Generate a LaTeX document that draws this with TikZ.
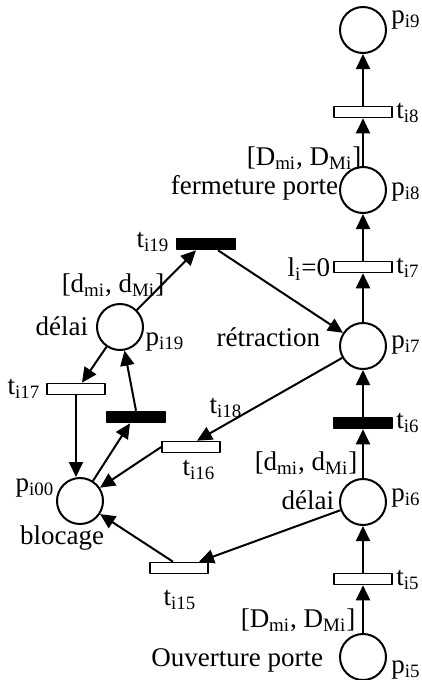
\documentclass[tikz,border=0pt]{standalone}
\usepackage{fontspec}
\setmainfont{Liberation Serif}
\usetikzlibrary{arrows.meta}
\begin{document}
\begin{tikzpicture}[x=0.5pt,y=-0.5pt,line width=1pt,line join=round,>={Triangle[length=7.5pt,width=7pt]},font=\fontsize{13.5}{15}\selectfont,
	place/.style={circle,draw,minimum size=23pt,inner sep=0pt},
	trans/.style={rectangle,draw,minimum width=29pt,minimum height=5.5pt,inner sep=0pt,line width=.8pt},
	imm/.style={trans,fill=black},
	lbl/.style={inner sep=0pt}]
	\useasboundingbox (0,0) rectangle (422,680);
	% colonne de droite
	\foreach \n/\y in {9/30,8/190,7/346,6/502,5/657}\node[place] (p\n) at (363,\y) {};
	\foreach \n/\y in {8/112,7/267,5/579}\node[trans] (t\n) at (363,\y) {};
	\node[imm] (t6) at (363,423) {};
	\foreach \a/\b in {p5/t5,t5/p6,p6/t6,t6/p7,p7/t7,t7/p8,p8/t8,t8/p9}\draw[->] (\a)--(\b);
	\foreach \n/\y in {9/20,8/192,7/345,6/498,5/670}\node[lbl] (lp\n) at (406,\y) {p\textsubscript{i\n}};
	\foreach \n/\y in {8/113,7/268,6/423,5/580}\node[lbl] (lt\n) at (408,\y) {t\textsubscript{i\n}};
	\node[lbl] (lint8) at (304,158) {[D\textsubscript{mi}, D\textsubscript{Mi}]};
	\node[lbl,anchor=east] (lferm) at (339,188) {fermeture porte};
	\node[lbl,anchor=east] (lli) at (331,269) {l\textsubscript{i}=0};
	\node[lbl,anchor=east] (lretr) at (321,337) {rétraction};
	\node[lbl] (lint6) at (306,463) {[d\textsubscript{mi}, d\textsubscript{Mi}]};
	\node[lbl,anchor=east] (ldel6) at (335,500) {délai};
	\node[lbl] (lint5) at (298,620) {[D\textsubscript{mi}, D\textsubscript{Mi}]};
	\node[lbl,anchor=east] (louv) at (324,660) {Ouverture porte};
	% partie gauche
	\node[place] (p19) at (120,327) {};
	\node[place] (p00) at (80,501) {};
	\node[imm] (t19) at (206,244) {};
	\node[imm] (tn) at (136,417) {};
	\node[trans] (t17) at (76,389) {};
	\node[trans] (t16) at (191,447) {};
	\node[trans] (t15) at (179,568) {};
	\draw[->] (p6)--([xshift=10pt]t15.north);
	\draw[->] ([xshift=-3pt]t15.north)--(p00);
	\draw[->] (p7)--([xshift=3pt]t16.north);
	\draw[->] (t16.west)--(p00);
	\draw[->] (p00)--([xshift=-3pt]tn.south);
	\draw[->] (tn.north)--(p19);
	\draw[->] (p19)--([xshift=3pt]t17.north);
	\draw[->] (t17.south)--(t17.south|-p00.north);
	\draw[->] (p19)--([xshift=-5pt]t19.south);
	\draw[->] ([xshift=6pt]t19.south)--(p7);
	\node[lbl] (lt19) at (153,242) {t\textsubscript{i19}};
	\node[lbl] (lint19) at (113,285) {[d\textsubscript{mi}, d\textsubscript{Mi}]};
	\node[lbl,anchor=east] (ldel19) at (89,326) {délai};
	\node[lbl] (lp19) at (165,342) {p\textsubscript{i19}};
	\node[lbl] (lt17) at (24,389) {t\textsubscript{i17}};
	\node[lbl] (lt18) at (226,408) {t\textsubscript{i18}};
	\node[lbl] (lt16) at (199,470) {t\textsubscript{i16}};
	\node[lbl] (lp00) at (35,488) {p\textsubscript{i00}};
	\node[lbl] (lbloc) at (62,538) {blocage};
	\node[lbl] (lt15) at (180,600) {t\textsubscript{i15}};
\end{tikzpicture}
\end{document}
